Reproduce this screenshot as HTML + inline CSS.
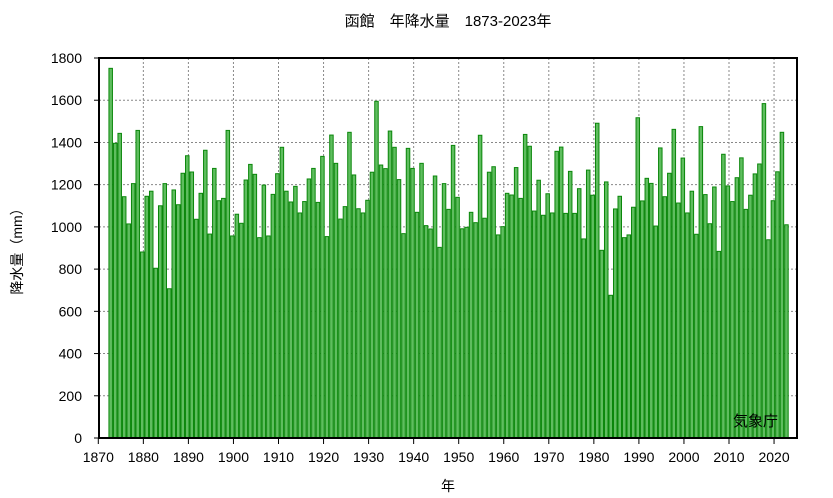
<!DOCTYPE html>
<html><head><meta charset="utf-8"><style>
body{margin:0;background:#fff;}
svg{display:block;font-family:"Liberation Sans","Noto Sans CJK JP",sans-serif;}
</style></head><body>
<svg id="chart" width="833" height="498">
<g id="grid"></g>
<g id="bars"></g>
<g id="axes"></g>
<text x="448" y="26" text-anchor="middle" font-size="15">函館　年降水量　1873-2023年</text>
<text transform="translate(22,248) rotate(-90)" text-anchor="middle" font-size="14">降水量（mm）</text>
<text x="448" y="491" text-anchor="middle" font-size="14">年</text>
<text x="778" y="426" text-anchor="end" font-size="15">気象庁</text>
</svg>
<script>
const startYear = 1873;
const values = [
1751,1396,1443,1143,1014,1205,1457,881,1145,1169,
804,1100,1205,707,1175,1105,1254,1337,1260,1036,
1159,1363,966,1277,1124,1135,1457,957,1060,1017,
1222,1296,1249,949,1198,957,1154,1252,1377,1169,
1118,1192,1066,1120,1227,1277,1116,1334,954,1435,
1301,1037,1096,1448,1246,1086,1066,1126,1259,1595,
1293,1276,1454,1377,1224,968,1372,1277,1069,1301,
1006,990,1241,903,1205,1083,1386,1140,991,998,
1069,1020,1434,1041,1259,1285,962,1001,1159,1151,
1281,1135,1438,1382,1075,1221,1055,1157,1066,1358,
1378,1064,1263,1064,1181,943,1269,1150,1491,889,
1213,676,1085,1145,949,962,1093,1517,1123,1230,
1206,1004,1374,1143,1254,1462,1113,1326,1066,1169,
965,1475,1153,1015,1189,884,1344,1194,1120,1233,
1327,1083,1150,1251,1298,1584,939,1124,1261,1448,1010
];
const yTicks = [0,200,400,600,800,1000,1200,1400,1600,1800];
const xTicks = [1870,1880,1890,1900,1910,1920,1930,1940,1950,1960,1970,1980,1990,2000,2010,2020];

const L=99,R=797,T=58,B=438;
const xs = y => 98.3 + (y-1870)*4.505;
const ys = v => B - v/1800*(B-T);
const NS="http://www.w3.org/2000/svg";
function mk(tag,attrs,parent){const e=document.createElementNS(NS,tag);for(const k in attrs)e.setAttribute(k,attrs[k]);parent.appendChild(e);return e;}
const grid=document.getElementById('grid'),bars=document.getElementById('bars'),axes=document.getElementById('axes');

yTicks.forEach(t=>{
  const y=ys(t);
  if(t>0&&t<1800){const g=mk('line',{x1:L,x2:R,y1:y,y2:y,stroke:'#888','stroke-dasharray':'2,2','stroke-width':1},grid);
  
  }
  const tk=mk('line',{x1:L-5,x2:L,y1:y,y2:y,stroke:'#000'},axes);
  
  
  const tx=mk('text',{x:82,y:y+5,'text-anchor':'end','font-size':14},axes);
  tx.textContent=t;
  
  
});
xTicks.forEach(t=>{
  const x=xs(t);
  if(t>1870){const g=mk('line',{x1:x,x2:x,y1:T,y2:B,stroke:'#888','stroke-dasharray':'2,2','stroke-width':1},grid);
  
  }
  const tk=mk('line',{x1:x,x2:x,y1:B,y2:B+6,stroke:'#000'},axes);
  
  
  const tx=mk('text',{x:x,y:B+24,'text-anchor':'middle','font-size':14},axes);
  tx.textContent=t;
  
  
});
values.forEach((v,i)=>{
  const yr=startYear+i;
  const x0=xs(yr-0.75),x1=xs(yr+0.25);
  const r=mk('rect',{x:x0+0.5,y:ys(v),width:x1-x0-1,height:B-ys(v),fill:'#5fbd5f',stroke:'#0b870b','stroke-width':1},bars);
  
  
});
const fr=mk('rect',{x:L,y:T,width:R-L,height:B-T,fill:'none',stroke:'#000','stroke-width':2},axes);


</script>
</body></html>
